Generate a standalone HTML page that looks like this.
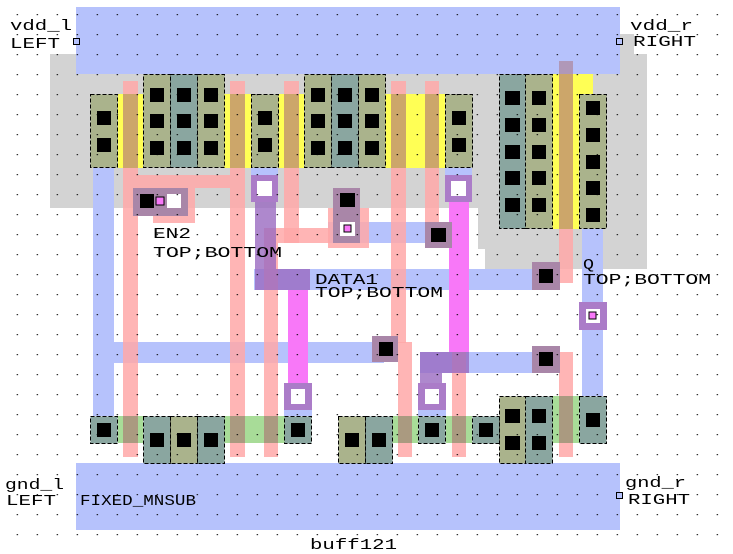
<!DOCTYPE html>
<html><head><meta charset="utf-8"><style>
html,body{margin:0;padding:0;background:#fff;}
svg{display:block;}
text{font-family:"Liberation Mono",monospace;font-size:15px;fill:#000;}
</style></head><body>
<svg width="733" height="554" viewBox="0 0 733 554" xmlns="http://www.w3.org/2000/svg">
<defs>
<pattern id="dots" x="0" y="0" width="20" height="20" patternUnits="userSpaceOnUse" patternTransform="translate(16.7,14)">
<rect x="0" y="0" width="1.2" height="1.2" fill="#000"/>
</pattern>
</defs>
<rect width="733" height="554" fill="#fff"/>
<!-- nwell gray -->
<path d="M50 54 H76 V74 H620 V34 H634 V54 H647 V269 H485 V249 H478 V208 H50 Z" fill="#d3d3d3"/>
<!-- rails -->
<rect x="76" y="7" width="544" height="67" fill="#b6c2fc"/>
<rect x="76" y="463" width="544" height="67" fill="#b6c2fc"/>
<!-- yellow pdiff gates -->
<rect x="118" y="94" width="25" height="74" fill="#ffff55"/>
<rect x="224" y="94" width="27" height="74" fill="#ffff55"/>
<rect x="278" y="94" width="26" height="74" fill="#ffff55"/>
<rect x="385" y="94" width="60" height="74" fill="#ffff55"/>
<rect x="552" y="74" width="41" height="20" fill="#ffff55"/>
<rect x="552" y="94" width="27" height="135" fill="#ffff55"/>
<!-- green ndiff -->
<rect x="118" y="416" width="25" height="27" fill="#a8dc98"/>
<rect x="224" y="416" width="61" height="27" fill="#a8dc98"/>
<rect x="392" y="416" width="26" height="27" fill="#a8dc98"/>
<rect x="446" y="416" width="26" height="27" fill="#a8dc98"/>
<rect x="552" y="396" width="27" height="47" fill="#a8dc98"/>
<!-- metal1 blue -->
<g fill="#b6c2fc">
<rect x="93" y="168" width="21" height="248"/>
<rect x="114" y="342" width="270" height="21"/>
<rect x="328" y="222" width="124" height="21"/>
<rect x="254" y="269" width="306" height="21"/>
<rect x="420" y="352" width="140" height="21"/>
<rect x="582" y="229" width="21" height="167"/>
<rect x="251" y="168" width="27" height="7"/>
<rect x="445" y="168" width="27" height="7"/>
<rect x="284" y="410" width="28" height="6"/>
<rect x="418" y="410" width="28" height="6"/>
</g>
<!-- poly -->
<g fill="#ffa8a8" fill-opacity="0.85">
<rect x="123" y="81" width="15" height="376"/>
<rect x="230" y="81" width="15" height="376"/>
<rect x="138" y="175" width="92" height="13"/>
<rect x="153" y="188" width="42" height="35"/>
<rect x="284" y="81" width="15" height="162"/>
<rect x="264" y="228" width="66" height="15"/>
<rect x="264" y="243" width="14" height="214"/>
<rect x="328" y="208" width="41" height="40"/>
<rect x="391" y="81" width="15" height="262"/>
<rect x="398" y="342" width="14" height="115"/>
<rect x="425" y="81" width="14" height="160"/>
<rect x="439" y="228" width="27" height="14"/>
<rect x="452" y="228" width="14" height="229"/>
<rect x="559" y="61" width="14" height="222"/>
<rect x="559" y="352" width="14" height="105"/>
</g>
<!-- poly over yellow = tan -->
<g fill="#cca66a">
<rect x="123" y="94" width="15" height="74"/>
<rect x="230" y="94" width="15" height="74"/>
<rect x="284" y="94" width="15" height="74"/>
<rect x="391" y="94" width="15" height="74"/>
<rect x="425" y="94" width="14" height="74"/>
<rect x="559" y="74" width="14" height="155"/>
</g>
<rect x="559" y="61" width="14" height="13" fill="#b098b8"/>
<!-- poly over green -->
<g fill="#aa9a80">
<rect x="123" y="416" width="15" height="27"/>
<rect x="230" y="416" width="15" height="27"/>
<rect x="264" y="416" width="14" height="27"/>
<rect x="398" y="416" width="14" height="27"/>
<rect x="452" y="416" width="14" height="27"/>
<rect x="559" y="396" width="14" height="47"/>
</g>
<!-- metal2 purple / magenta -->
<rect x="288" y="290" width="20" height="95" fill="#f878f8"/>
<rect x="449" y="202" width="20" height="150" fill="#f878f8"/>
<g fill="#9a6ac0" fill-opacity="0.8">
<rect x="255" y="202" width="21" height="88"/>
<rect x="276" y="269" width="34" height="21"/>
<rect x="420" y="352" width="49" height="21"/>
<rect x="420" y="373" width="22" height="12"/>
</g>
<!-- via boxes -->
<g fill="#ab7cc8">
<rect x="251" y="175" width="27" height="27"/>
<rect x="445" y="175" width="27" height="27"/>
<rect x="284" y="383" width="28" height="27"/>
<rect x="418" y="383" width="28" height="27"/>
<rect x="579" y="302" width="28" height="28"/>
</g>
<g fill="#fff">
<rect x="257" y="181" width="15" height="15"/>
<rect x="451" y="181" width="15" height="15"/>
<rect x="291" y="389" width="14" height="15"/>
<rect x="425" y="389" width="14" height="15"/>
<rect x="586" y="309" width="14" height="14"/>
</g>
<rect x="589" y="312" width="7" height="7" fill="#f878f8" stroke="#000" stroke-width="1"/>
<!-- mauve contact boxes -->
<g fill="#a986a8">
<rect x="133" y="188" width="55" height="28"/>
<rect x="333" y="188" width="27" height="55"/>
<rect x="425" y="222" width="27" height="26"/>
<rect x="372" y="336" width="26" height="26"/>
<rect x="532" y="262" width="28" height="28"/>
<rect x="532" y="346" width="28" height="27"/>
</g>
<rect x="167" y="194" width="14" height="14" fill="#fff"/>
<rect x="340" y="222" width="15" height="14" fill="#fff"/>
<rect x="156" y="197" width="8" height="8" fill="#f878f8" stroke="#000"/>
<rect x="344" y="225" width="7" height="7" fill="#f878f8" stroke="#000"/>
<g fill="#000">
<rect x="140" y="194" width="14" height="14"/>
<rect x="340" y="193" width="15" height="14"/>
<rect x="431" y="228" width="15" height="14"/>
<rect x="379" y="342" width="14" height="14"/>
<rect x="539" y="269" width="14" height="14"/>
<rect x="539" y="352" width="14" height="14"/>
</g>
<!-- diffusion cells -->
<g stroke="#000" stroke-dasharray="4,2" stroke-width="1">
<rect x="90.5" y="94.5" width="27" height="73" fill="#aab38c"/>
<rect x="143.5" y="74.5" width="27" height="93" fill="#aab38c"/>
<rect x="170.5" y="74.5" width="27" height="93" fill="#8aa6a0"/>
<rect x="197.5" y="74.5" width="27" height="93" fill="#aab38c"/>
<rect x="251.5" y="94.5" width="27" height="73" fill="#aab38c"/>
<rect x="304.5" y="74.5" width="27" height="93" fill="#aab38c"/>
<rect x="331.5" y="74.5" width="27" height="93" fill="#8aa6a0"/>
<rect x="358.5" y="74.5" width="27" height="93" fill="#aab38c"/>
<rect x="445.5" y="94.5" width="27" height="73" fill="#aab38c"/>
<rect x="499.5" y="74.5" width="26" height="154" fill="#8aa6a0"/>
<rect x="525.5" y="74.5" width="27" height="154" fill="#aab38c"/>
<rect x="579.5" y="94.5" width="27" height="134" fill="#aab38c"/>
<rect x="90.5" y="416.5" width="27" height="27" fill="#8aa6a0"/>
<rect x="143.5" y="416.5" width="27" height="47" fill="#8aa6a0"/>
<rect x="170.5" y="416.5" width="27" height="47" fill="#aab38c"/>
<rect x="197.5" y="416.5" width="27" height="47" fill="#8aa6a0"/>
<rect x="284.5" y="416.5" width="27" height="27" fill="#8aa6a0"/>
<rect x="338.5" y="416.5" width="27" height="47" fill="#aab38c"/>
<rect x="365.5" y="416.5" width="27" height="47" fill="#8aa6a0"/>
<rect x="418.5" y="416.5" width="27" height="27" fill="#8aa6a0"/>
<rect x="472.5" y="416.5" width="27" height="27" fill="#8aa6a0"/>
<rect x="499.5" y="396.5" width="26" height="67" fill="#aab38c"/>
<rect x="525.5" y="396.5" width="27" height="67" fill="#8aa6a0"/>
<rect x="579.5" y="396.5" width="27" height="47" fill="#8aa6a0"/>
</g>
<!-- contacts -->
<g fill="#000">
<rect x="97" y="111" width="14" height="14"/><rect x="97" y="138" width="14" height="14"/>
<rect x="150" y="88" width="14" height="14"/><rect x="150" y="114" width="14" height="14"/><rect x="150" y="141" width="14" height="14"/>
<rect x="177" y="88" width="14" height="14"/><rect x="177" y="114" width="14" height="14"/><rect x="177" y="141" width="14" height="14"/>
<rect x="204" y="88" width="14" height="14"/><rect x="204" y="114" width="14" height="14"/><rect x="204" y="141" width="14" height="14"/>
<rect x="258" y="111" width="14" height="14"/><rect x="258" y="138" width="14" height="14"/>
<rect x="311" y="88" width="14" height="14"/><rect x="311" y="114" width="14" height="14"/><rect x="311" y="141" width="14" height="14"/>
<rect x="338" y="88" width="14" height="14"/><rect x="338" y="114" width="14" height="14"/><rect x="338" y="141" width="14" height="14"/>
<rect x="365" y="88" width="14" height="14"/><rect x="365" y="114" width="14" height="14"/><rect x="365" y="141" width="14" height="14"/>
<rect x="452" y="111" width="14" height="14"/><rect x="452" y="138" width="14" height="14"/>
<rect x="505" y="91" width="15" height="14"/><rect x="505" y="118" width="15" height="14"/><rect x="505" y="145" width="15" height="14"/><rect x="505" y="171" width="15" height="14"/><rect x="505" y="198" width="15" height="14"/>
<rect x="532" y="91" width="14" height="14"/><rect x="532" y="118" width="14" height="14"/><rect x="532" y="145" width="14" height="14"/><rect x="532" y="171" width="14" height="14"/><rect x="532" y="198" width="14" height="14"/>
<rect x="586" y="101" width="14" height="14"/><rect x="586" y="128" width="14" height="14"/><rect x="586" y="155" width="14" height="14"/><rect x="586" y="181" width="14" height="14"/><rect x="586" y="208" width="14" height="14"/>
<rect x="97" y="423" width="14" height="14"/>
<rect x="150" y="433" width="14" height="14"/><rect x="177" y="433" width="14" height="14"/><rect x="204" y="433" width="14" height="14"/>
<rect x="291" y="423" width="14" height="14"/>
<rect x="345" y="433" width="14" height="14"/><rect x="372" y="433" width="14" height="14"/>
<rect x="425" y="423" width="14" height="14"/>
<rect x="479" y="423" width="14" height="14"/>
<rect x="505" y="409" width="15" height="14"/><rect x="505" y="436" width="15" height="14"/>
<rect x="532" y="409" width="14" height="14"/><rect x="532" y="436" width="14" height="14"/>
<rect x="586" y="413" width="14" height="14"/>
</g>
<!-- grid dots -->
<rect width="733" height="554" fill="url(#dots)"/>
<!-- pin squares -->
<rect x="73.5" y="38.5" width="6" height="6" fill="#b6c2fc" stroke="#000"/>
<rect x="616.5" y="38.5" width="6" height="6" fill="#b6c2fc" stroke="#000"/>
<rect x="616.5" y="492.5" width="6" height="6" fill="#b6c2fc" stroke="#000"/>
<!-- labels -->
<text x="10" y="30" textLength="62" lengthAdjust="spacingAndGlyphs">vdd_l</text>
<text x="10" y="48" textLength="50" lengthAdjust="spacingAndGlyphs">LEFT</text>
<text x="630" y="30" textLength="63" lengthAdjust="spacingAndGlyphs">vdd_r</text>
<text x="633" y="46" textLength="63" lengthAdjust="spacingAndGlyphs">RIGHT</text>
<text x="153" y="238" textLength="38" lengthAdjust="spacingAndGlyphs">EN2</text>
<text x="153" y="257" textLength="129" lengthAdjust="spacingAndGlyphs">TOP;BOTTOM</text>
<text x="315" y="284" textLength="63" lengthAdjust="spacingAndGlyphs">DATA1</text>
<text x="315" y="297" textLength="128" lengthAdjust="spacingAndGlyphs">TOP;BOTTOM</text>
<text x="583" y="269" textLength="11" lengthAdjust="spacingAndGlyphs">Q</text>
<text x="583" y="284" textLength="128" lengthAdjust="spacingAndGlyphs">TOP;BOTTOM</text>
<text x="5" y="489" textLength="59" lengthAdjust="spacingAndGlyphs">gnd_l</text>
<text x="6" y="505" textLength="50" lengthAdjust="spacingAndGlyphs">LEFT</text>
<text x="80" y="505" textLength="116" lengthAdjust="spacingAndGlyphs">FIXED_MNSUB</text>
<text x="625" y="487" textLength="61" lengthAdjust="spacingAndGlyphs">gnd_r</text>
<text x="628" y="504" textLength="62" lengthAdjust="spacingAndGlyphs">RIGHT</text>
<text x="310" y="549" textLength="87" lengthAdjust="spacingAndGlyphs">buff121</text>
</svg>
</body></html>
